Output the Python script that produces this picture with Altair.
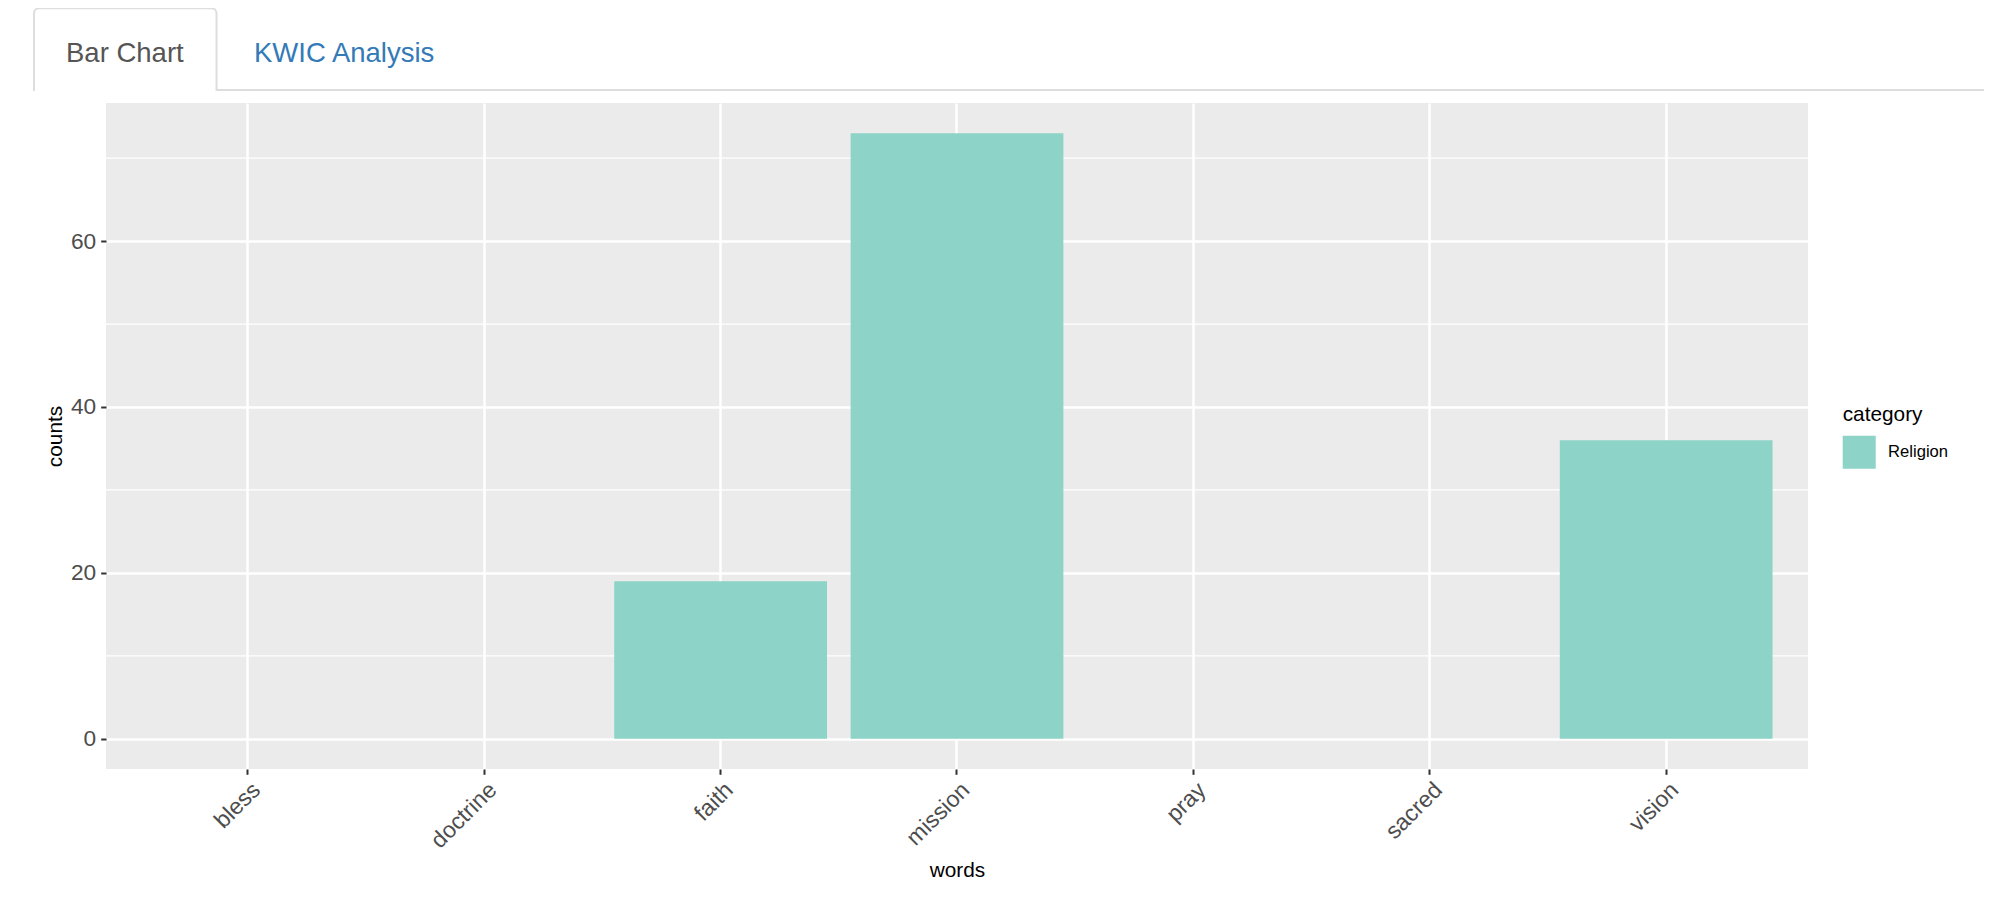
import altair as alt
import pandas as pd

# ---- data ----
words = ["bless", "doctrine", "faith", "mission", "pray", "sacred", "vision"]
counts = [0, 0, 19, 73, 0, 0, 36]
categories = ["Religion"] * 7
major_y = [0, 20, 40, 60]
minor_y = [10, 30, 50, 70]
y_domain = [-3.65, 76.65]
tab_labels = ["Bar Chart", "KWIC Analysis"]

W, H = 1702, 666
FONT = "Liberation Sans"

df = pd.DataFrame({"words": words, "counts": counts, "category": categories})
minor_df = pd.DataFrame({"counts": minor_y})
one = pd.DataFrame({"k": [0]})

yscale = alt.Scale(domain=y_domain, nice=False, zero=False)
xscale = alt.Scale(paddingInner=0.1, paddingOuter=0.15)

y_axis = alt.Axis(
    title="counts", values=major_y, grid=True, gridColor="white",
    gridWidth=2.5, domain=False, ticks=True, tickColor="#333333",
    tickSize=5.3, tickWidth=2, labelFontSize=22.7, labelColor="#4D4D4D",
    labelFont=FONT, labelPadding=5, titleFont=FONT, titleFontSize=20.8,
    titleFontWeight="normal", titleColor="black", titleX=-44.5,
    titleY=H / 2, titleAngle=270, titleBaseline="alphabetic",
    titleAlign="center",
)

minor = alt.Chart(minor_df).mark_rule(color="white", strokeWidth=1.2).encode(
    y=alt.Y("counts:Q", scale=yscale, axis=y_axis)
)

bars = alt.Chart(df).mark_bar(color="#8DD3C7").encode(
    x=alt.X(
        "words:N", scale=xscale, sort=words,
        axis=alt.Axis(
            title="words", grid=True, gridColor="white", gridWidth=2.5,
            bandPosition=0.5, domain=False, ticks=True, tickColor="#333333",
            tickSize=5.3, tickWidth=2, labelAngle=-45, labelAlign="right",
            labelBaseline="top", labelFontSize=23, labelColor="#4D4D4D",
            labelFont=FONT, labelPadding=4, labelOffset=1, labelOverlap=False,
            labelFlush=False, titleFont=FONT, titleFontSize=20.8,
            titleFontWeight="normal", titleColor="black", titleX=W / 2,
            titleY=107, titleBaseline="alphabetic", titleAlign="center",
        ),
    ),
    y=alt.Y("counts:Q", scale=yscale, axis=y_axis),
    y2=alt.datum(0),
    color=alt.Color(
        "category:N",
        scale=alt.Scale(domain=["Religion"], range=["#8DD3C7"]),
        legend=alt.Legend(
            title="category", orient="none", legendX=1736.7, legendY=302,
            padding=0, titleFont=FONT, titleFontSize=20.8,
            titleFontWeight="normal", titleColor="black", titlePadding=10,
            labelFont=FONT, labelFontSize=16.6, labelColor="black",
            labelOffset=12.4, symbolType="square", symbolSize=1089,
            symbolStrokeWidth=0, symbolOpacity=1,
        ),
    ),
)

# ---- tab strip decoration above the chart ----
tab_box = alt.Chart(one).mark_rect(
    fill="white", stroke="#DDDDDD", strokeWidth=2,
    cornerRadiusTopLeft=5, cornerRadiusTopRight=5,
).encode(x=alt.value(-72), x2=alt.value(110.5), y=alt.value(-94.7), y2=alt.value(-13))

tab_hide = alt.Chart(one).mark_rule(color="white", strokeWidth=4).encode(
    x=alt.value(-71), x2=alt.value(109.5), y=alt.value(-12)
)

tab_line = alt.Chart(one).mark_rule(color="#DDDDDD", strokeWidth=2).encode(
    x=alt.value(110.5), x2=alt.value(1886), y=alt.value(-13)
)

tab1 = alt.Chart(pd.DataFrame({"t": [tab_labels[0]]})).mark_text(
    font=FONT, fontSize=27.5, color="#555555", align="left", baseline="alphabetic"
).encode(x=alt.value(-40), y=alt.value(-41.3), text="t:N")

tab2 = alt.Chart(pd.DataFrame({"t": [tab_labels[1]]})).mark_text(
    font=FONT, fontSize=27.5, color="#337AB7", align="left", baseline="alphabetic"
).encode(x=alt.value(148), y=alt.value(-41.3), text="t:N")

chart = alt.layer(minor, bars, tab_box, tab_hide, tab_line, tab1, tab2).properties(
    width=W, height=H,
    padding={"left": 98, "top": 95, "right": 176, "bottom": 120},
    autosize=alt.AutoSizeParams(type="none"),
).configure_view(fill="#EBEBEB", strokeWidth=0)

chart.save("out.html", embed_options={"renderer": "svg", "actions": False})
